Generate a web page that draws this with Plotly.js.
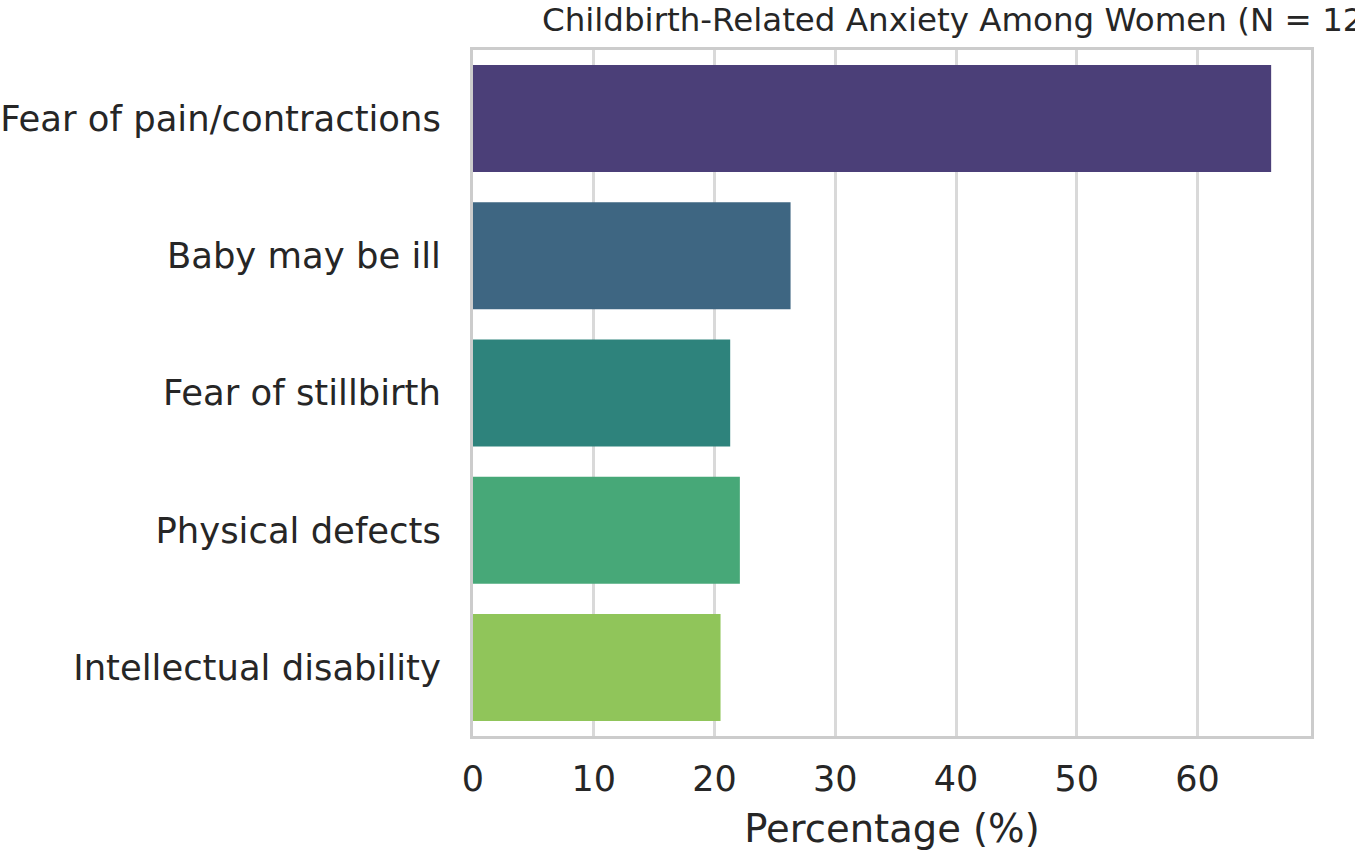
<!DOCTYPE html>
<html>
<head>
<meta charset="utf-8">
<script src="https://cdn.plot.ly/plotly-3.0.1.min.js"></script>
<style>html,body{margin:0;padding:0;background:#fff;overflow:hidden}#chart{width:1355px;height:854px}</style>
</head>
<body>
<div id="chart"></div>
<script>
const categories = ["Fear of pain/contractions", "Baby may be ill", "Fear of stillbirth", "Physical defects", "Intellectual disability"];
const percentages = [66.1, 26.3, 21.3, 22.1, 20.5];
const barColors = ["#4b3f78", "#3e6682", "#2e837c", "#47a878", "#90c55a"];
const xTicks = [0, 10, 20, 30, 40, 50, 60];

const trace = {
  type: "bar",
  orientation: "h",
  y: categories,
  x: percentages,
  width: 0.78,
  marker: {color: barColors, line: {width: 0}},
  hoverinfo: "x+y"
};

const font = "DejaVu Sans, sans-serif";
const layout = {
  width: 1355, height: 854,
  paper_bgcolor: "#ffffff", plot_bgcolor: "#ffffff",
  margin: {l: 473, r: 44, t: 50, b: 118, pad: 0},
  showlegend: false,
  title: {
    text: "Childbirth-Related Anxiety Among Women (N = 120)",
    font: {family: font, size: 32.5, color: "#262626"},
    xref: "container", x: 542/1355, xanchor: "left",
    yref: "container", y: 1 - 20/854, yanchor: "middle"
  },
  xaxis: {
    range: [0, 69.4],
    tickvals: xTicks,
    ticktext: xTicks.map(String),
    showgrid: true, gridcolor: "#d9d9d9", gridwidth: 3,
    zeroline: false,
    showline: true, mirror: true, linecolor: "#cccccc", linewidth: 3,
    ticks: "", ticklabelstandoff: 10,
    tickfont: {family: font, size: 35, color: "#262626"},
    title: {text: "Percentage (%)", font: {family: font, size: 38.5, color: "#262626"}, standoff: 18},
    fixedrange: true
  },
  yaxis: {
    type: "category",
    autorange: false,
    range: [4.5, -0.5],
    showgrid: false,
    zeroline: false,
    showline: true, mirror: true, linecolor: "#cccccc", linewidth: 3,
    ticks: "", ticklabelstandoff: 22,
    tickfont: {family: font, size: 35.4, color: "#262626"},
    fixedrange: true
  }
};

Plotly.newPlot("chart", [trace], layout, {displayModeBar: false, staticPlot: true});
</script>
</body>
</html>
